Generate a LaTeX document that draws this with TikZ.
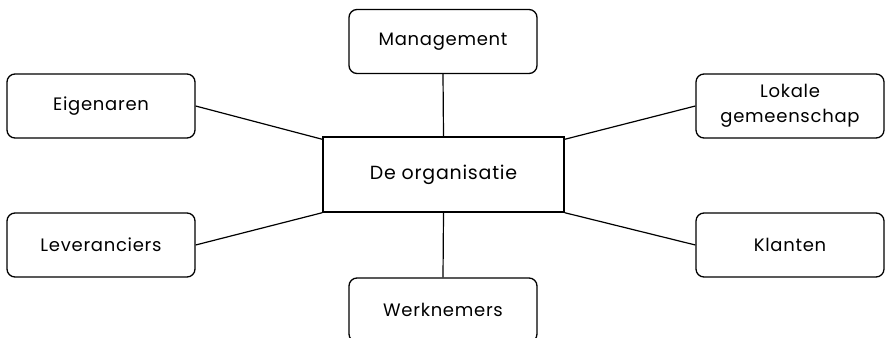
\documentclass[tikz,border=0pt]{standalone}
\usepackage{fontspec}
\setmainfont[LetterSpace=4]{Poppins}
\begin{document}
\begin{tikzpicture}[x=1pt,y=-1pt,
  every node/.style={font=\fontsize{18}{25}\selectfont, align=center, inner sep=0pt},
  party/.style={draw, line width=1.3pt, rounded corners=8pt, minimum width=188pt, minimum height=64pt},
  core/.style={draw, line width=1.4pt, minimum width=241pt, minimum height=75pt, font=\fontsize{19}{25}\selectfont},
  link/.style={line width=1.2pt}]
\useasboundingbox (0,0) rectangle (885,337);
\node[core] (org) at (443.5,174.5) {De organisatie};
\node[party] (man) at (443,41.5) {Management};
\node[party] (eig) at (101,106) {Eigenaren};
\node[party] (lok) at (790,106) {Lokale\\gemeenschap};
\node[party] (lev) at (101,245) {Leveranciers};
\node[party] (kla) at (790,245) {Klanten};
\node[party] (wer) at (443,310) {Werknemers};
\draw[link] (man.south) -- (org.north);
\draw[link] (org.south) -- (wer.north);
\draw[link] (eig.east) -- ([yshift=-3pt]org.north west);
\draw[link] (lev.east) -- (org.south west);
\draw[link] (lok.west) -- ([yshift=-3pt]org.north east);
\draw[link] (kla.west) -- (org.south east);
\end{tikzpicture}
\end{document}
